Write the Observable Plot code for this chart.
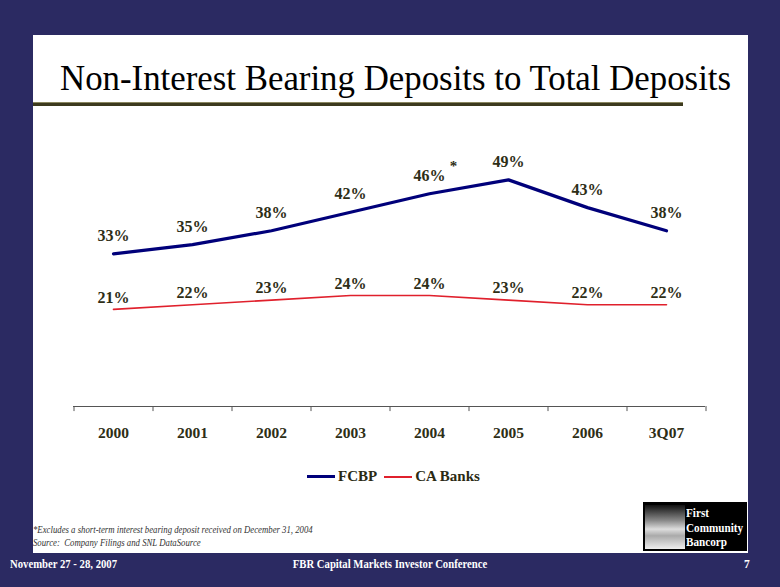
<!DOCTYPE html>
<html>
<head>
<meta charset="utf-8">
<script src="https://cdn.jsdelivr.net/npm/d3@7"></script>
<script src="https://cdn.jsdelivr.net/npm/@observablehq/plot@0.6"></script>
<style>
  html, body { margin: 0; padding: 0; }
  body { width: 780px; height: 587px; background: #2b2a62; position: relative; overflow: hidden; font-family: "Liberation Serif", "Times New Roman", serif; }
  .panel { position: absolute; left: 33px; top: 35px; width: 715px; height: 518px; background: #ffffff; }
  .title { position: absolute; left: 60px; top: 61px; font-size: 35px; line-height: 1; color: #000; white-space: nowrap; transform: scaleX(0.995); transform-origin: left top; }
  .bar { position: absolute; left: 33px; top: 102px; width: 650px; height: 4px; background: #3c3a1e; border-top: 1px solid #8a8760; box-sizing: border-box; }
  #chart { position: absolute; left: 0; top: 140px; }
  .legend { position: absolute; left: 0; width: 780px; top: 468px; text-align: center; font-weight: bold; font-size: 15px; color: #2a2a14; white-space: nowrap; }
  .legend span.sw { display: inline-block; width: 28px; vertical-align: middle; margin-right: 3px; margin-left: 7px; position: relative; top: -1px; }
  .note { position: absolute; left: 33px; font-style: italic; font-size: 9.5px; color: #333; white-space: nowrap; transform: scaleX(0.92); transform-origin: left top; }
  .logo { position: absolute; left: 643px; top: 502px; width: 104px; height: 49px; background: #000; }
  .logo .img { position: absolute; left: 2px; top: 3px; width: 40px; height: 44px; background: linear-gradient(#111 0%, #888 35%, #ddd 55%, #aaa 70%, #eee 100%); }
  .logo .txt { position: absolute; left: 43px; color: #fff; font-weight: bold; font-size: 13px; line-height: 14.5px; top: 4px; transform: scaleX(0.86); transform-origin: left top; }
  .footer { position: absolute; top: 558px; color: #fff; font-weight: bold; font-size: 11.5px; white-space: nowrap; }
  .cond { transform: scaleX(0.93); }
</style>
</head>
<body>
<div class="panel"></div>
<div class="title">Non-Interest Bearing Deposits to Total Deposits</div>
<div class="bar"></div>
<div id="chart"></div>
<div class="legend" id="legend"></div>
<div class="note" style="top:525px">*Excludes a short-term interest bearing deposit received on December 31, 2004</div>
<div class="note" style="top:538px">Source:&nbsp; Company Filings and SNL DataSource</div>
<div class="logo"><div class="img"></div><div class="txt">First<br>Community<br>Bancorp</div></div>
<div class="footer cond" style="left:10px;transform-origin:left top">November 27 - 28, 2007</div>
<div class="footer cond" style="left:0;width:780px;text-align:center;transform-origin:center top">FBR Capital Markets Investor Conference</div>
<div class="footer" style="left:744px">7</div>
<script>
const categories = ["2000", "2001", "2002", "2003", "2004", "2005", "2006", "3Q07"];
const fcbpValues = [33, 35, 38, 42, 46, 49, 43, 38];
const caBanksValues = [21, 22, 23, 24, 24, 23, 22, 22];
const fcbpNotes = ["", "", "", "", "*", "", "", ""];
const seriesNames = ["FCBP", "CA Banks"];
const seriesColors = ["#00007a", "#e0202c"];

const fcbp = categories.map((c, i) => ({cat: c, value: fcbpValues[i], note: fcbpNotes[i], series: seriesNames[0]}));
const ca = categories.map((c, i) => ({cat: c, value: caBanksValues[i], series: seriesNames[1]}));

const labelColor = "#2e2e16";
const font = "Liberation Serif, Times New Roman, serif";
const band = (705 - 73) / categories.length;

const chart = Plot.plot({
  width: 780,
  height: 310,
  marginLeft: 73,
  marginRight: 75,
  marginTop: 10,
  marginBottom: 44,
  style: {fontFamily: font, background: "transparent", overflow: "visible"},
  x: {type: "point", domain: categories, padding: 0.5, label: null},
  y: {domain: [0, 50], range: [266, 266 - 50 * 4.625], axis: null},
  marks: [
    Plot.ruleY([0], {stroke: "#555"}),
    Plot.ruleX(categories, {x: d => d, y1: 0, y2: -1.1, dx: -band / 2, stroke: "#555"}),
    Plot.ruleX(categories.slice(-1), {x: d => d, y1: 0, y2: -1.1, dx: band / 2, stroke: "#555"}),
    Plot.axisX({tickSize: 0, tickPadding: 20, fontSize: 15.5, fontWeight: "bold", fill: labelColor, fontFamily: font}),
    Plot.line(ca, {x: "cat", y: "value", stroke: seriesColors[1], strokeWidth: 1.6}),
    Plot.line(fcbp, {x: "cat", y: "value", stroke: seriesColors[0], strokeWidth: 3.2}),
    Plot.text(fcbp, {x: "cat", y: "value", text: d => d.value + "%", dy: -18, fontSize: 16, fontWeight: "bold", fill: labelColor}),
    Plot.text(fcbp.filter(d => d.note), {x: "cat", y: "value", text: "note", dx: 24, dy: -28, fontSize: 15, fontWeight: "bold", fill: labelColor}),
    Plot.text(ca, {x: "cat", y: "value", text: d => d.value + "%", dy: -12, fontSize: 16, fontWeight: "bold", fill: labelColor})
  ]
});
document.getElementById("chart").appendChild(chart);

const legend = document.getElementById("legend");
seriesNames.forEach((name, i) => {
  const sw = document.createElement("span");
  sw.className = "sw";
  sw.style.borderTop = (i === 0 ? 3 : 2) + "px solid " + seriesColors[i];
  legend.appendChild(sw);
  legend.appendChild(document.createTextNode(name));
});
</script>
</body>
</html>
